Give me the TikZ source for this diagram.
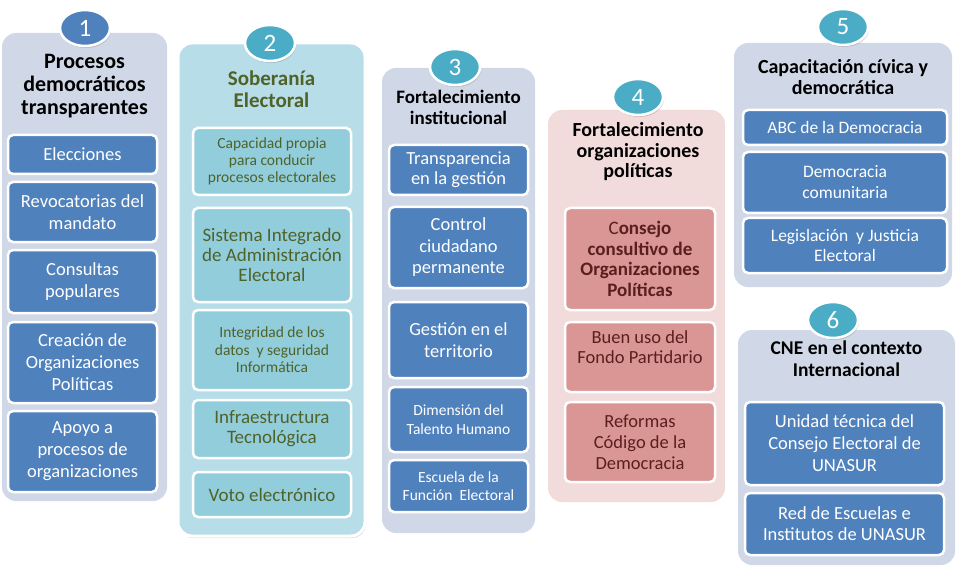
\documentclass[tikz,border=0pt]{standalone}
\usepackage{fontspec}
\setmainfont{Carlito}
\usetikzlibrary{shapes.geometric,shadows}
\definecolor{panelgray}{HTML}{D0D8E8}
\definecolor{panelteal}{HTML}{B7DEE8}
\definecolor{panelrose}{HTML}{F2DCDB}
\definecolor{boxblue}{HTML}{4F81BD}
\definecolor{boxteal}{HTML}{92CDDC}
\definecolor{boxrose}{HTML}{D99694}
\definecolor{badgeteal}{HTML}{4BACC6}
\definecolor{olive}{HTML}{4F6228}
\definecolor{maroon}{HTML}{5A1F1D}
\begin{document}
\begin{tikzpicture}[x=1pt,y=-1pt,
    panel/.style={rectangle,rounded corners=14pt,fill=panelgray,inner sep=0pt},
    box/.style={rectangle,rounded corners=5pt,draw=white,line width=2.5pt,align=center,inner sep=1pt},
    bluebox/.style={box,fill=boxblue,text=white},
    tealbox/.style={box,fill=boxteal,text=olive},
    rosebox/.style={box,fill=boxrose,text=maroon},
    badge/.style={ellipse,minimum width=50pt,minimum height=36pt,inner sep=0pt,draw=white,line width=2.5pt,
        fill=badgeteal,text=white,font=\fontsize{25}{26}\selectfont,
        drop shadow={shadow xshift=1pt,shadow yshift=-2pt,opacity=.35}},
    heading/.style={align=center,font=\bfseries\fontsize{20}{20.5}\selectfont}]
    \useasboundingbox (0,0) rectangle (957,569);

    % 1 Procesos democraticos
    \node[panel,minimum width=165pt,minimum height=468pt] (p1) at (84.5,267) {};
    \node[heading,font=\bfseries\fontsize{22}{23}\selectfont] (h1) at (84.5,86) {Procesos\\democráticos\\transparentes};
    \node[bluebox,font=\fontsize{18.5}{22}\selectfont,minimum width=149pt,minimum height=39pt] (e1) at (82.5,154.5) {Elecciones};
    \node[bluebox,font=\fontsize{18.5}{22}\selectfont,minimum width=149pt,minimum height=60pt] (e2) at (82.5,212) {Revocatorias del\\mandato};
    \node[bluebox,font=\fontsize{18.5}{22}\selectfont,minimum width=149pt,minimum height=63pt] (e3) at (82.5,281.5) {Consultas\\populares};
    \node[bluebox,font=\fontsize{18.5}{22}\selectfont,minimum width=149pt,minimum height=81pt] (e4) at (82.5,362.5) {Creación de\\Organizaciones\\Políticas};
    \node[bluebox,font=\fontsize{18.5}{22}\selectfont,minimum width=149pt,minimum height=81pt] (e5) at (82.5,451.5) {Apoyo a\\procesos de\\organizaciones};
    \node[badge,fill=boxblue] (n1) at (85,28) {1};

    % 2 Soberania electoral
    \node[panel,fill=panelteal,draw=white,line width=3pt,minimum width=187pt,minimum height=493pt,
        drop shadow={shadow xshift=1pt,shadow yshift=-2pt,opacity=.3}] (p2) at (271.5,289.5) {};
    \node[heading,text=olive,font=\bfseries\fontsize{21}{22}\selectfont] (h2) at (271.5,89) {Soberanía\\Electoral};
    \node[tealbox,font=\fontsize{15.5}{16.7}\selectfont,minimum width=158pt,minimum height=67pt] (s1) at (272,161.5) {Capacidad propia\\para conducir\\procesos electorales};
    \node[tealbox,font=\fontsize{19}{20}\selectfont,minimum width=158pt,minimum height=94pt] (s2) at (272,255) {Sistema Integrado\\de Administración\\Electoral};
    \node[tealbox,font=\fontsize{15.5}{17.5}\selectfont,minimum width=158pt,minimum height=80pt] (s3) at (272,350) {Integridad de los\\datos~ y seguridad\\Informática};
    \node[tealbox,font=\fontsize{19}{20}\selectfont,minimum width=158pt,minimum height=58pt] (s4) at (272,429) {Infraestructura\\Tecnológica};
    \node[tealbox,font=\fontsize{19}{20}\selectfont,minimum width=158pt,minimum height=45pt] (s5) at (272,494.5) {Voto electrónico};
    \node[badge] (n2) at (270,43) {2};

    % 3 Fortalecimiento institucional
    \node[panel,minimum width=153pt,minimum height=465pt] (p3) at (458.5,300.5) {};
    \node[heading,font=\bfseries\fontsize{19}{21}\selectfont] (h3) at (458.5,107.5) {Fortalecimiento\\institucional};
    \node[bluebox,font=\fontsize{18.5}{20}\selectfont,minimum width=139pt,minimum height=50pt] (t1) at (458.5,170) {Transparencia\\en la gestión};
    \node[bluebox,font=\fontsize{18.5}{21.5}\selectfont,minimum width=139pt,minimum height=81pt] (t2) at (458.5,247.5) {Control\\ciudadano\\permanente};
    \node[bluebox,font=\fontsize{18.5}{22}\selectfont,minimum width=139pt,minimum height=76pt] (t3) at (458.5,340) {Gestión en el\\territorio};
    \node[bluebox,font=\fontsize{15.5}{19}\selectfont,minimum width=139pt,minimum height=65pt] (t4) at (458.5,419.5) {Dimensión del\\Talento Humano};
    \node[bluebox,font=\fontsize{15.5}{18}\selectfont,minimum width=139pt,minimum height=52pt] (t5) at (458.5,486) {Escuela de la\\Función~ Electoral};
    \node[badge] (n3) at (455,67) {3};

    % 4 Organizaciones politicas
    \node[panel,fill=panelrose,minimum width=177pt,minimum height=392pt] (p4) at (636.5,306) {};
    \node[heading] (h4) at (638,152) {Fortalecimiento\\organizaciones\\políticas};
    \node[rosebox,font=\bfseries\fontsize{19}{20.5}\selectfont,minimum width=150pt,minimum height=102pt] (f1) at (640,259) {{\mdseries C}onsejo\\consultivo de\\Organizaciones\\Políticas};
    \node[rosebox,font=\fontsize{18.5}{20}\selectfont,minimum width=150pt,minimum height=70pt] (f2) at (640,357) {Buen uso del\\Fondo Partidario\\~};
    \node[rosebox,font=\fontsize{18.5}{21}\selectfont,minimum width=150pt,minimum height=80pt] (f3) at (640,442) {Reformas\\Código de la\\Democracia};
    \node[badge] (n4) at (638,97) {4};

    % 5 Capacitacion civica
    \node[panel,minimum width=218pt,minimum height=244pt] (p5) at (843,165) {};
    \node[heading] (h5) at (843,77) {Capacitación cívica y\\democrática};
    \node[bluebox,font=\fontsize{17.5}{21}\selectfont,minimum width=204pt,minimum height=35pt] (c1) at (845,127.5) {ABC de la Democracia};
    \node[bluebox,font=\fontsize{17.5}{21}\selectfont,minimum width=204pt,minimum height=61pt] (c2) at (845,182.5) {Democracia\\comunitaria};
    \node[bluebox,font=\fontsize{17.5}{20}\selectfont,minimum width=204pt,minimum height=55pt] (c3) at (845,245.5) {Legislación~ y Justicia\\Electoral};
    \node[badge] (n5) at (843,27) {5};

    % 6 Contexto internacional
    \node[panel,minimum width=217pt,minimum height=235pt] (p6) at (846.5,447.5) {};
    \node[heading,font=\bfseries\fontsize{19.5}{22}\selectfont] (h6) at (846.5,359) {CNE en el contexto\\Internacional};
    \node[bluebox,font=\fontsize{18.5}{22}\selectfont,minimum width=199pt,minimum height=83pt] (u1) at (844.5,443.5) {Unidad técnica del\\Consejo Electoral de\\UNASUR};
    \node[bluebox,font=\fontsize{18.5}{21}\selectfont,minimum width=199pt,minimum height=62pt] (u2) at (844.5,524) {Red de Escuelas e\\Institutos de UNASUR};
    \node[badge] (n6) at (833,320) {6};
\end{tikzpicture}
\end{document}
